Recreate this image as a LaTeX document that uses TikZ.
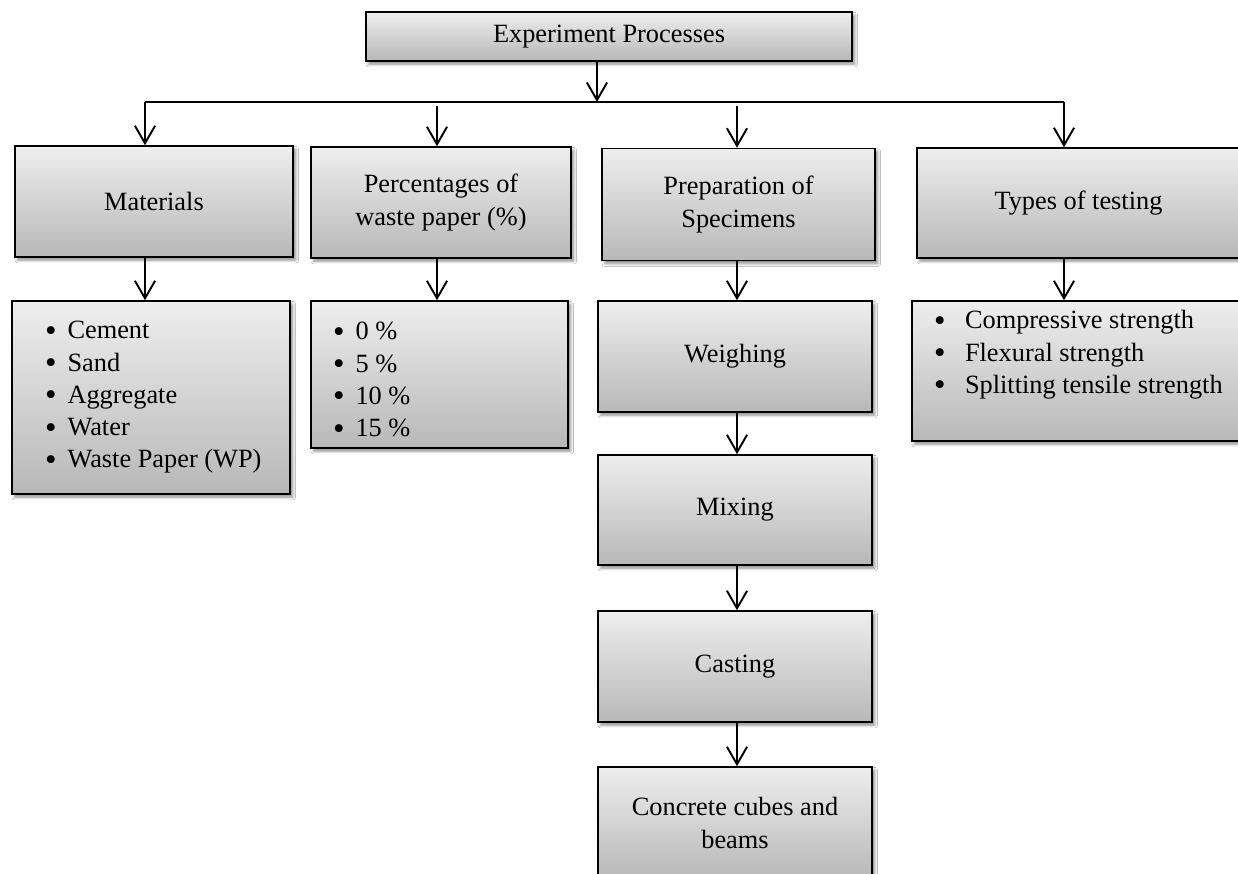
\documentclass[tikz,border=0pt]{standalone}
\usepackage{fontspec}
\setmainfont{Liberation Serif}
\usetikzlibrary{arrows.meta,shadows.blur}
\newlength\pxu
\setlength\pxu{0.02cm}
\definecolor{boxtop}{RGB}{238,238,238}
\definecolor{boxbot}{RGB}{184,184,184}
\tikzset{
  box/.style={draw=black, line width=0.85pt, top color=boxtop, bottom color=boxbot,
    blur shadow={shadow xshift=1.6pt, shadow yshift=-1.8pt, shadow blur radius=1.6pt, shadow opacity=45},
    inner sep=0pt, font=\fontsize{15}{18.3}\selectfont, align=center},
  arr/.style={line width=1.1pt, -{Straight Barb[length=10pt,width=11.5pt,line width=1.1pt]}},
  bar/.style={line width=0.85pt}
}
% bullet: width of slot, scale
\newcommand\bul[2]{\makebox[#1][l]{\raisebox{-0.1em}{\scalebox{#2}{\textbullet}}}}
% list: box width, lead space, raise, rows
\newcommand\blist[4]{\makebox[#1][l]{\hspace{#2}\raisebox{#3}[0pt][0pt]{\begin{tabular}[t]{@{}l@{}}#4\end{tabular}}}}
\begin{document}
\begin{tikzpicture}[x=0.02cm,y=-0.02cm]
\useasboundingbox (0,0) rectangle (1238,874);
\fill[white] (0,0) rectangle (1238,874);
\begin{scope}
\clip (0,0) rectangle (1238,874);
% boxes
\node[box, minimum width=486\pxu, minimum height=49\pxu] (top) at (609,36.5) {Experiment Processes};
\node[box, minimum width=278\pxu, minimum height=111\pxu] (mat) at (154,201.5) {Materials};
\node[box, minimum width=260\pxu, minimum height=111\pxu] (pct) at (441,202.5) {Percentages of\\waste paper (\%)};
\node[box, minimum width=273\pxu, minimum height=112\pxu] (prep) at (738.5,204.5) {Preparation of\\Specimens};
\node[box, minimum width=323\pxu, minimum height=110\pxu] (typ) at (1078.5,203) {Types of testing};

\node[box, minimum width=278\pxu, minimum height=193\pxu] (mb) at (151,397.5)
  {\blist{278\pxu}{33\pxu}{58.5\pxu}{\bul{22.5\pxu}{1.25}Cement\\ \bul{22.5\pxu}{1.25}Sand\\ \bul{22.5\pxu}{1.25}Aggregate\\ \bul{22.5\pxu}{1.25}Water\\ \bul{22.5\pxu}{1.25}Waste Paper (WP)}};
\node[box, minimum width=257\pxu, minimum height=147\pxu] (pb) at (439.5,374.5)
  {\blist{257\pxu}{22\pxu}{34.5\pxu}{\bul{22.5\pxu}{1.25}0 \%\\ \bul{22.5\pxu}{1.25}5 \%\\ \bul{22.5\pxu}{1.25}10 \%\\ \bul{22.5\pxu}{1.25}15 \%}};
\node[box, minimum width=274\pxu, minimum height=111\pxu] (wei) at (735,356.5) {Weighing};
\node[box, minimum width=274\pxu, minimum height=110\pxu] (mix) at (735,510) {Mixing};
\node[box, minimum width=274\pxu, minimum height=111\pxu] (cas) at (735,666.5) {Casting};
\node[box, minimum width=274\pxu, minimum height=112\pxu] (con) at (735,823) {Concrete cubes and\\beams};
\node[box, minimum width=340\pxu, minimum height=140\pxu] (tb) at (1082,371)
  {\blist{340\pxu}{22\pxu}{42\pxu}{\bul{31\pxu}{1.25}Compressive strength\\ \bul{31\pxu}{1.25}Flexural strength\\ \bul{31\pxu}{1.25}Splitting tensile strength}};

% connector coordinates
\coordinate (c0) at (597,102);
\coordinate (bl) at (145,102);
\coordinate (br) at (1064,102);
\coordinate (c2) at (437,106);
\coordinate (c3) at (737,106);

\draw[arr] (c0 |- top.south) -- (c0);
\draw[bar] (bl) -- (br);
\draw[arr] (bl) -- (bl |- mat.north);
\draw[arr] (c2) -- (c2 |- pct.north);
\draw[arr] (c3) -- (c3 |- prep.north);
\draw[arr] (br) -- (br |- typ.north);

\draw[arr] (bl |- mat.south) -- (bl |- mb.north);
\draw[arr] (c2 |- pct.south) -- (c2 |- pb.north);
\draw[arr] (c3 |- prep.south) -- (c3 |- wei.north);
\draw[arr] (c3 |- wei.south) -- (c3 |- mix.north);
\draw[arr] (c3 |- mix.south) -- (c3 |- cas.north);
\draw[arr] (c3 |- cas.south) -- (c3 |- con.north);
\draw[arr] (br |- typ.south) -- (br |- tb.north);
\end{scope}
\end{tikzpicture}
\end{document}
